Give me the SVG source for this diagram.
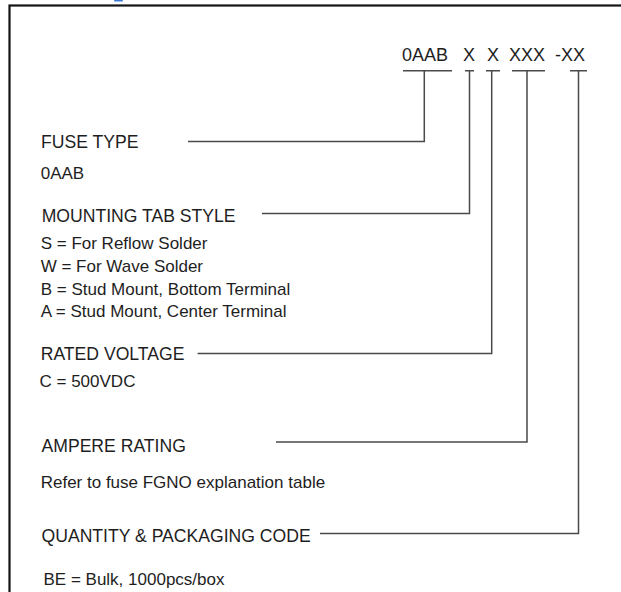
<svg xmlns="http://www.w3.org/2000/svg" width="621" height="592" viewBox="0 0 621 592">
<style>
  .code{font-family:"Liberation Sans",Arial,Helvetica,sans-serif;font-size:18px;fill:#1e1e1e}
  .head{font-family:"Liberation Sans",Arial,Helvetica,sans-serif;font-size:17.6px;fill:#1e1e1e}
  .body{font-family:"Liberation Sans",Arial,Helvetica,sans-serif;font-size:17px;fill:#1e1e1e}
  .ln{fill:none;stroke:#4a4a4a;stroke-width:1.5}
  .frame{fill:none;stroke:#151515;stroke-width:2.2}
</style>
<rect x="0" y="0" width="621" height="592" fill="#ffffff"/>
<rect x="114" y="0" width="9" height="1.6" rx="0.8" fill="#3a7bd5"/>
<rect class="frame" x="9.5" y="5.5" width="700" height="700"/>

<g id="code">
  <text class="code" x="402" y="60.5">0AAB</text>
  <text class="code" x="463" y="60.5">X</text>
  <text class="code" x="487" y="60.5">X</text>
  <text class="code" x="509" y="60.5">XXX</text>
  <text class="code" x="555" y="60.5">-XX</text>
</g>

<g id="connectors">
  <path class="ln" d="M403 70.7H452M465 70.7H474M486 70.7H500M512 70.7H545M570 70.7H587"/>
  <path class="ln" d="M424.3 70.7V141.5H188"/>
  <path class="ln" d="M469.5 70.7V213.5H262"/>
  <path class="ln" d="M491.7 70.7V353.5H197.6"/>
  <path class="ln" d="M527 70.7V442H276"/>
  <path class="ln" d="M578.5 70.7V533.5H320"/>
</g>

<g id="fuse-type">
  <text class="head" x="41" y="148.3">FUSE TYPE</text>
  <text class="body" x="40.7" y="179">0AAB</text>
</g>

<g id="mounting-tab-style">
  <text class="head" x="41.7" y="221.7">MOUNTING TAB STYLE</text>
  <text class="body" x="40.7" y="249">S = For Reflow Solder</text>
  <text class="body" x="40.7" y="271.8">W = For Wave Solder</text>
  <text class="body" x="40.7" y="294.6">B = Stud Mount, Bottom Terminal</text>
  <text class="body" x="40.7" y="317.4">A = Stud Mount, Center Terminal</text>
</g>

<g id="rated-voltage">
  <text class="head" x="40.7" y="360">RATED VOLTAGE</text>
  <text class="body" x="39.5" y="387">C = 500VDC</text>
</g>

<g id="ampere-rating">
  <text class="head" x="41.5" y="452">AMPERE RATING</text>
  <text class="body" x="40.7" y="488">Refer to fuse FGNO explanation table</text>
</g>

<g id="quantity-packaging">
  <text class="head" x="41.5" y="542">QUANTITY &amp; PACKAGING CODE</text>
  <text class="body" x="43.5" y="585">BE = Bulk, 1000pcs/box</text>
</g>
</svg>
